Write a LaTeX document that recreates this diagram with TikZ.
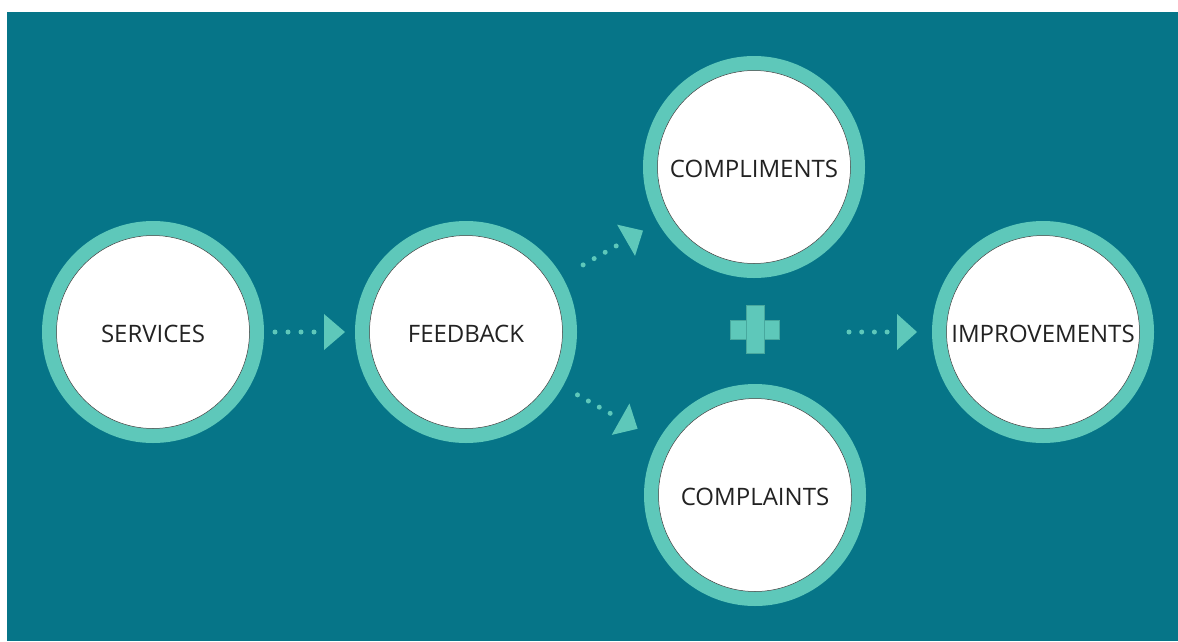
\documentclass[tikz,border=0pt]{standalone}
\usepackage{fontspec}
\setmainfont{Open Sans}
\usetikzlibrary{calc}
\definecolor{bgteal}{RGB}{6,117,136}
\definecolor{ringc}{RGB}{94,200,186}
\definecolor{ringedge}{RGB}{72,168,158}
\definecolor{txt}{RGB}{34,34,34}
\tikzset{
  ring/.style={circle, fill=ringc, minimum size=222pt, inner sep=0pt},
  disc/.style={circle, fill=white, draw=black!75, line width=0.5pt, minimum size=193pt, inner sep=0pt,
    font=\fontsize{24}{27}\selectfont, text=txt, text height=20pt, text depth=0pt},
  dotline/.style={ringc, line width=5pt, line cap=round, dash pattern=on 0pt off #1},
  tip/.style={fill=ringc},
  bar/.style={fill=ringc, draw=ringedge, line width=0.6pt}
}
% #1 from, #2 to, #3 dot start, #4 dot end, #5 spacing, #6 triangle base, #7 triangle tip
\newcommand\dotarrow[7]{%
  \draw[dotline=#5] ($(#1)!#3!(#2)$) -- ($(#1)!#4!(#2)$);
  \coordinate (tb) at ($(#1)!#6!(#2)$);
  \fill[tip] ($(tb)!18pt!90:(#2)$) -- ($(#1)!#7!(#2)$) -- ($(tb)!18pt!-90:(#2)$) -- cycle;
}
\begin{document}
\begin{tikzpicture}[x=1pt,y=-1pt]
\useasboundingbox (0,0) rectangle (1178,641);
\fill[bgteal] (7,12) rectangle (1178,641);

\node[ring] (sr) at (153,332) {};
\node[disc] (s) at (153,332) {SERVICES};
\node[ring] (fr) at (466,332) {};
\node[disc] (f) at (466,332) {FEEDBACK};
\node[ring] (cr) at (754,167) {};
\node[disc] (c) at (754,167) {COMPLIMENTS};
\node[ring] (pr) at (755,495) {};
\node[disc] (p) at (755,495) {COMPLAINTS};
\node[ring] (ir) at (1043,332) {};
\node[disc] (i) at (1043,332) {IMPROVEMENTS};

% plus sign
\node[bar, rectangle, minimum width=49pt, minimum height=19pt, inner sep=0pt] (plush) at (754.5,329.5) {};
\node[bar, rectangle, minimum width=18pt, minimum height=48pt, inner sep=0pt] (plus) at (755,329) {};
\coordinate (pl) at (plus |- i);

\dotarrow{s}{f}{122pt}{161.5pt}{13pt}{171pt}{192pt}
\dotarrow{f}{c}{135pt}{173.5pt}{12.7pt}{184.5pt}{204pt}
\dotarrow{f}{p}{128pt}{166pt}{12.5pt}{177.5pt}{197pt}
\dotarrow{pl}{i}{94pt}{132.5pt}{12.7pt}{142pt}{162pt}
\end{tikzpicture}
\end{document}
